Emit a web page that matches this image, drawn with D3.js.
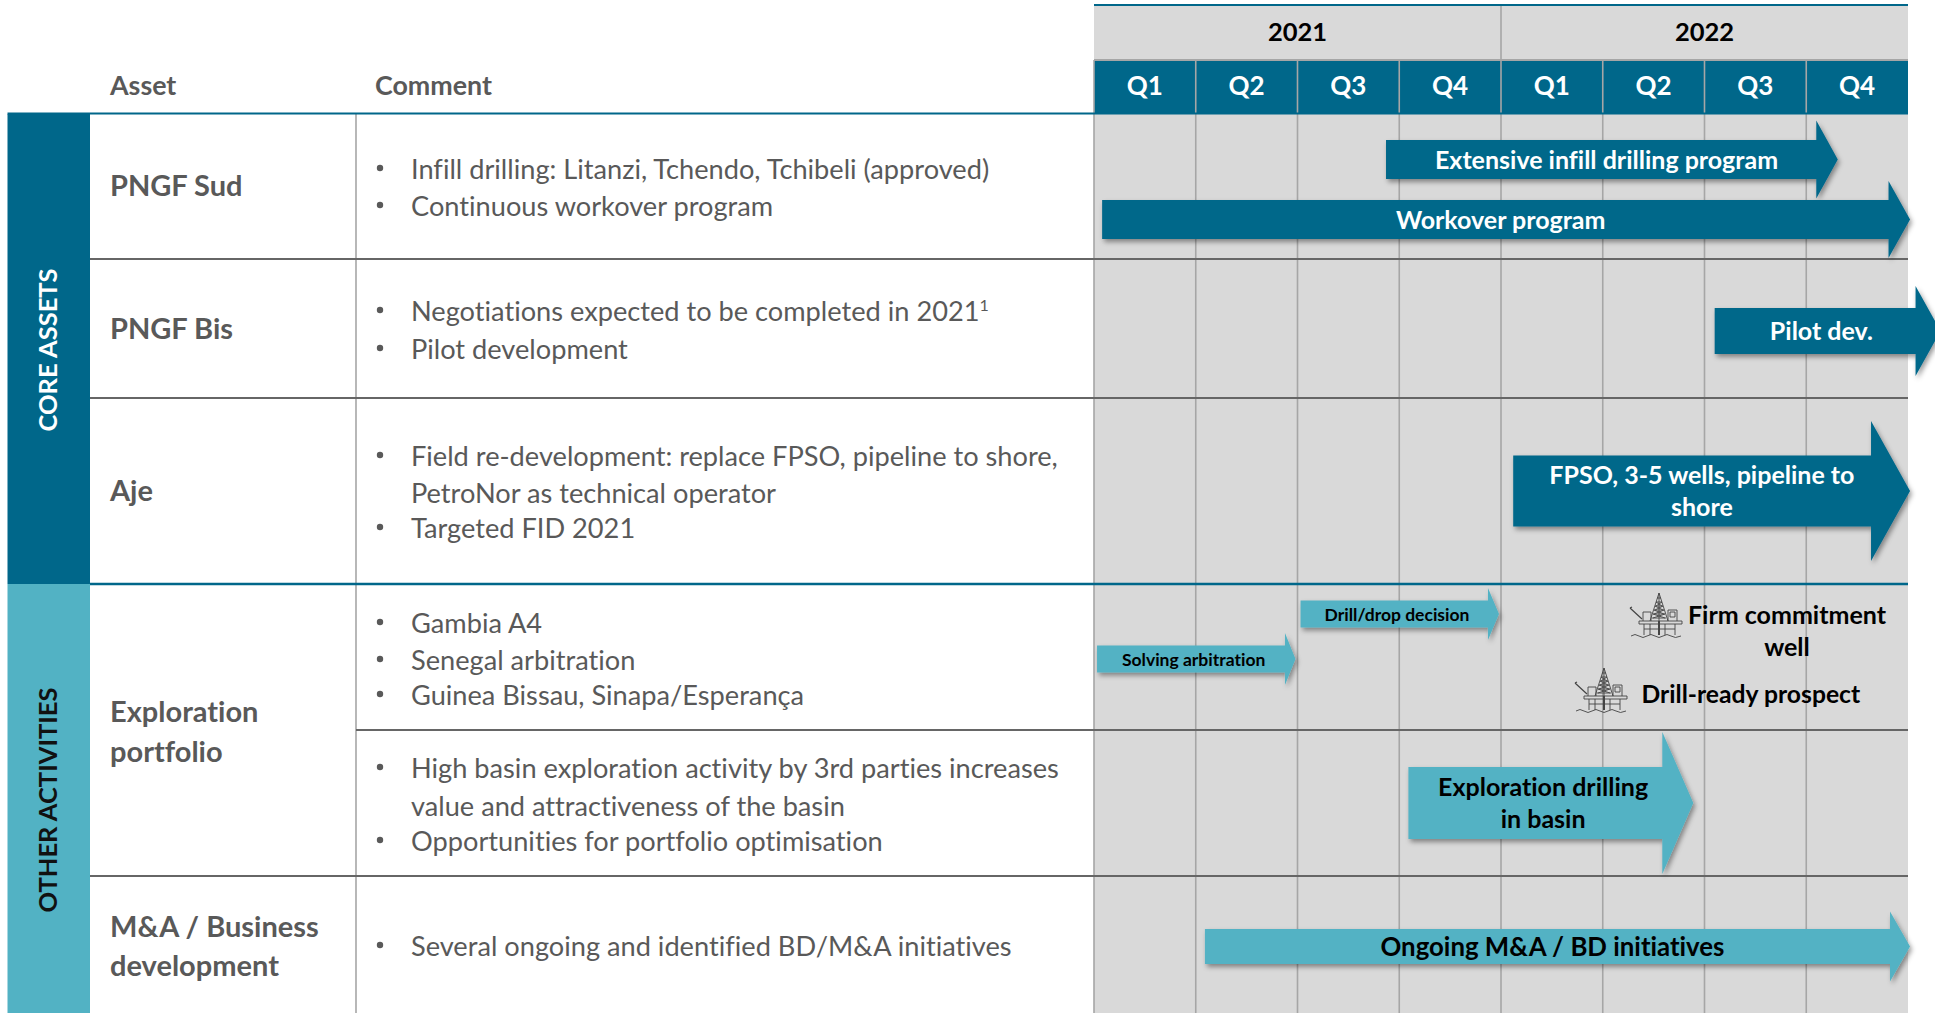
<!DOCTYPE html>
<html>
<head>
<meta charset="utf-8">
<script src="https://cdn.jsdelivr.net/npm/d3@7"></script>
<style>
  html, body { margin: 0; background: #fff; overflow: hidden; }
  svg { display: block; font-family: Lato, "Open Sans", sans-serif; font-variant-ligatures: none; }
</style>
</head>
<body>
<svg id="chart"></svg>
<script>
// chart content
const years = ['2021', '2022'];
const quarters = ['Q1', 'Q2', 'Q3', 'Q4', 'Q1', 'Q2', 'Q3', 'Q4'];
const groupNames = ['CORE ASSETS', 'OTHER ACTIVITIES'];
const groupRows = [[0, 3], [3, 6]];
const assetNames = [['PNGF Sud'], ['PNGF Bis'], ['Aje'], ['Exploration', 'portfolio'], ['M&A / Business', 'development']];
const commentLines = [
    { text: 'Infill drilling: Litanzi, Tchendo, Tchibeli (approved)', bullet: true },
    { text: 'Continuous workover program', bullet: true },
    { text: 'Negotiations expected to be completed in 2021', sup: '1', bullet: true },
    { text: 'Pilot development', bullet: true },
    { text: 'Field re-development: replace FPSO, pipeline to shore,', bullet: true },
    { text: 'PetroNor as technical operator', bullet: false },
    { text: 'Targeted FID 2021', bullet: true },
    { text: 'Gambia A4', bullet: true },
    { text: 'Senegal arbitration', bullet: true },
    { text: 'Guinea Bissau, Sinapa/Esperança', bullet: true },
    { text: 'High basin exploration activity by 3rd parties increases', bullet: true },
    { text: 'value and attractiveness of the basin', bullet: false },
    { text: 'Opportunities for portfolio optimisation', bullet: true },
    { text: 'Several ongoing and identified BD/M&A initiatives', bullet: true }
];

// arrows: start and tip in quarters since Q1 2021, lane in table rows
const arrowLabels = [
    ['Extensive infill drilling program'],
    ['Workover program'],
    ['Pilot dev.'],
    ['FPSO, 3-5 wells, pipeline to', 'shore'],
    ['Drill/drop decision'],
    ['Solving arbitration'],
    ['Exploration drilling', 'in basin'],
    ['Ongoing M&A / BD initiatives']
];
const arrowStart = [2.87, 0.08, 6.10, 4.12, 2.03, 0.03, 3.09, 1.09];
const arrowTip = [7.31, 8.02, 8.32, 8.02, 3.98, 1.98, 5.89, 8.02];
const arrowLane = [0.314, 0.728, 1.518, 2.5, 3.205, 3.514, 4.5, 5.515];
const arrowDark = [true, true, true, true, false, false, false, false];

const rigNotes = [['Firm commitment', 'well'], ['Drill-ready prospect']];

// layout
const width = 1935;
const height = 1013;
const rowEdges = [114, 259, 398, 584, 730, 876, 1013];
const rowRules = [259, 398, 730, 876];
const commentY = [169, 206, 311, 349, 456, 493, 528, 623, 660, 695, 768, 806, 841, 946];
const assetY = [[186], [329], [491], [712, 752], [927, 966]];
const arrowShaft = [19.5, 19.5, 23, 35.5, 13.5, 13.5, 36, 17.5];
const arrowHead = [39, 38.5, 45, 70, 26, 26, 71, 35];
const arrowHeadLen = [21.5, 21.5, 25, 39, 11, 10.5, 31, 20];
const arrowFont = [25, 25, 25, 25, 17.5, 17.5, 25, 25.8];

const dark = '#00678a';
const light = '#52b2c4';
const gray = '#d9d9d9';
const textGray = '#595959';
const gridGray = '#a6a6a6';
const ruleGray = '#666666';

const x = d3.scaleLinear().domain([0, 8]).range([1094, 1908]);
const y = d3.scaleLinear().domain(d3.range(rowEdges.length)).range(rowEdges);

const svg = d3.select('#chart').attr('width', width).attr('height', height);

const defs = svg.append('defs');
const shadow = defs.append('filter').attr('id', 'shadow')
    .attr('x', '-5%').attr('y', '-10%').attr('width', '110%').attr('height', '125%');
shadow.append('feDropShadow')
    .attr('dx', 2).attr('dy', 3).attr('stdDeviation', 2.5)
    .attr('flood-color', '#000').attr('flood-opacity', 0.4);

// gantt background
svg.append('rect')
    .attr('x', x(0)).attr('y', 5)
    .attr('width', x(8) - x(0)).attr('height', height - 5)
    .attr('fill', gray);

// quarter header
svg.append('g').selectAll('rect')
    .data(quarters)
    .join('rect')
    .attr('x', (d, i) => x(i))
    .attr('y', 61)
    .attr('width', (d, i) => x(i + 1) - x(i))
    .attr('height', 53)
    .attr('fill', dark);

// grid lines run from the quarter header to the bottom
svg.append('g').selectAll('line')
    .data(d3.range(0, 8))
    .join('line')
    .attr('x1', (d) => x(d)).attr('x2', (d) => x(d))
    .attr('y1', (d) => (d === 4 ? 5 : 60))
    .attr('y2', height)
    .attr('stroke', gridGray)
    .attr('stroke-width', 1.6);

svg.append('line')
    .attr('x1', x(0)).attr('x2', x(8))
    .attr('y1', 60).attr('y2', 60)
    .attr('stroke', gridGray).attr('stroke-width', 2);

svg.append('line')
    .attr('x1', x(0)).attr('x2', x(8))
    .attr('y1', 5).attr('y2', 5)
    .attr('stroke', dark).attr('stroke-width', 2);

svg.append('g').selectAll('text')
    .data(years)
    .join('text')
    .attr('x', (d, i) => x(i * 4 + 2))
    .attr('y', 41)
    .attr('text-anchor', 'middle')
    .attr('font-size', 25.5).attr('font-weight', 700)
    .attr('fill', '#000')
    .text((d) => d);

svg.append('g').selectAll('text')
    .data(quarters)
    .join('text')
    .attr('x', (d, i) => x(i + 0.5))
    .attr('y', 95)
    .attr('text-anchor', 'middle')
    .attr('font-size', 26).attr('font-weight', 700)
    .attr('fill', '#fff')
    .text((d) => d);

// table headers
svg.append('g').selectAll('text')
    .data(['Asset', 'Comment'])
    .join('text')
    .attr('x', (d, i) => (i === 0 ? 110 : 375))
    .attr('y', 95)
    .attr('font-size', 26.8).attr('font-weight', 700)
    .attr('fill', textGray)
    .text((d) => d);

// group bands
svg.append('g').selectAll('rect')
    .data(groupNames)
    .join('rect')
    .attr('x', 7.5)
    .attr('y', (d, i) => y(groupRows[i][0]))
    .attr('width', 82.5)
    .attr('height', (d, i) => y(groupRows[i][1]) - y(groupRows[i][0]))
    .attr('fill', (d, i) => (i === 0 ? dark : light));

svg.append('g').selectAll('text')
    .data(groupNames)
    .join('text')
    .attr('transform', (d, i) => `translate(57,${[350, 800][i]}) rotate(-90)`)
    .attr('text-anchor', 'middle')
    .attr('font-size', 25.5).attr('font-weight', 700)
    .attr('fill', (d, i) => (i === 0 ? '#fff' : '#111'))
    .text((d) => d);

// table rules
svg.append('line')
    .attr('x1', 356).attr('x2', 356)
    .attr('y1', 114).attr('y2', height)
    .attr('stroke', gridGray).attr('stroke-width', 1.6);

svg.append('g').selectAll('line')
    .data(rowRules)
    .join('line')
    .attr('x1', (d) => (d === 730 ? 356 : 90))
    .attr('x2', x(8))
    .attr('y1', (d) => d).attr('y2', (d) => d)
    .attr('stroke', ruleGray).attr('stroke-width', 2);

svg.append('line')
    .attr('x1', 7.5).attr('x2', x(8))
    .attr('y1', 113.5).attr('y2', 113.5)
    .attr('stroke', dark).attr('stroke-width', 2);

svg.append('line')
    .attr('x1', 90).attr('x2', x(8))
    .attr('y1', 584).attr('y2', 584)
    .attr('stroke', dark).attr('stroke-width', 2.4);

// asset names
const assetGroups = svg.append('g').selectAll('g')
    .data(assetNames)
    .join('g');

assetGroups.selectAll('text')
    .data((d, i) => d.map((line, j) => ({ line, yPos: assetY[i][j] })))
    .join('text')
    .attr('x', 110)
    .attr('y', (d) => d.yPos + 10)
    .attr('font-size', 29).attr('font-weight', 700)
    .attr('fill', textGray)
    .text((d) => d.line);

// comments
const comments = svg.append('g').selectAll('g')
    .data(commentLines)
    .join('g')
    .attr('transform', (d, i) => `translate(0,${commentY[i]})`);

comments.filter((d) => d.bullet).append('circle')
    .attr('cx', 380).attr('cy', -1).attr('r', 3.2)
    .attr('fill', textGray);

const commentText = comments.append('text')
    .attr('x', 411).attr('y', 9.5)
    .attr('font-size', 27.2)
    .attr('fill', textGray)
    .text((d) => d.text);

commentText.filter((d) => d.sup).append('tspan')
    .attr('font-size', 16).attr('dy', -10)
    .text((d) => d.sup);

// arrows
const arrowData = arrowLabels.map((label, i) => ({
    label,
    start: x(arrowStart[i]),
    tip: x(arrowTip[i]),
    mid: y(arrowLane[i]),
    shaft: arrowShaft[i],
    head: arrowHead[i],
    headLen: arrowHeadLen[i],
    font: arrowFont[i],
    isDark: arrowDark[i]
}));

const arrowLine = d3.line();

const arrows = svg.append('g').selectAll('g')
    .data(arrowData)
    .join('g');

arrows.append('path')
    .attr('d', (d) => {
        const base = d.tip - d.headLen;
        return arrowLine([
            [d.start, d.mid - d.shaft],
            [base, d.mid - d.shaft],
            [base, d.mid - d.head],
            [d.tip, d.mid],
            [base, d.mid + d.head],
            [base, d.mid + d.shaft],
            [d.start, d.mid + d.shaft]
        ]) + 'Z';
    })
    .attr('fill', (d) => (d.isDark ? dark : light))
    .attr('filter', 'url(#shadow)');

arrows.selectAll('text')
    .data((d) => d.label.map((line, j) => ({ line, j, n: d.label.length, arrow: d })))
    .join('text')
    .attr('x', (d) => (d.arrow.start + d.arrow.tip) / 2 - d.arrow.headLen / 4)
    .attr('y', (d) => d.arrow.mid + (d.j - (d.n - 1) / 2) * 32 + 0.6)
    .attr('dy', '0.35em')
    .attr('text-anchor', 'middle')
    .attr('font-size', (d) => d.arrow.font)
    .attr('font-weight', 700)
    .attr('fill', (d) => (d.arrow.isDark ? '#fff' : '#000'))
    .text((d) => d.line);

// rig icons
function drawRig(group) {
    const g = group.append('g')
        .attr('fill', 'none').attr('stroke', '#444').attr('stroke-width', 0.9);
    g.append('path').attr('d', 'M29 0L20 28M29 0L38 28M29 0V42');
    g.append('path').attr('d', 'M27 5H31M26 9H32M25 13H33M24 17H34M23 21H35M22 25H36M26 9L32 13M32 9L26 13M25 13L33 17M33 13L25 17M24 17L34 21M34 17L24 21M23 21L35 25M35 21L23 25');
    g.append('path').attr('d', 'M0 15L12 26M0 15L2 14').attr('stroke-width', 1.2);
    g.append('path').attr('d', 'M13 28V19H21V28M38 28V17H47V28M40 19H45V24H40Z');
    g.append('path').attr('d', 'M9 28H52V31H9Z');
    g.append('path').attr('d', 'M14 31V42M20 31V42M35 31V42M45 31V42M14 36H45');
    g.append('path').attr('d', 'M1 43Q5 40 9 43T17 43T25 43T33 43T41 43T51 43');
    g.append('line').attr('x1', 29).attr('x2', 29).attr('y1', 28).attr('y2', 42)
        .attr('stroke-width', 2);
}

svg.append('g').attr('transform', 'translate(1630,593)').call(drawRig);
svg.append('g').attr('transform', 'translate(1575,668)').call(drawRig);

svg.append('g').selectAll('text')
    .data(rigNotes[0])
    .join('text')
    .attr('x', 1787)
    .attr('y', (d, i) => [623.5, 655.5][i])
    .attr('text-anchor', 'middle')
    .attr('font-size', 25).attr('font-weight', 700)
    .attr('fill', '#000')
    .text((d) => d);

svg.append('text')
    .attr('x', 1641.5).attr('y', 703)
    .attr('font-size', 24.7).attr('font-weight', 700)
    .attr('fill', '#000')
    .text(rigNotes[1][0]);
</script>
</body>
</html>
